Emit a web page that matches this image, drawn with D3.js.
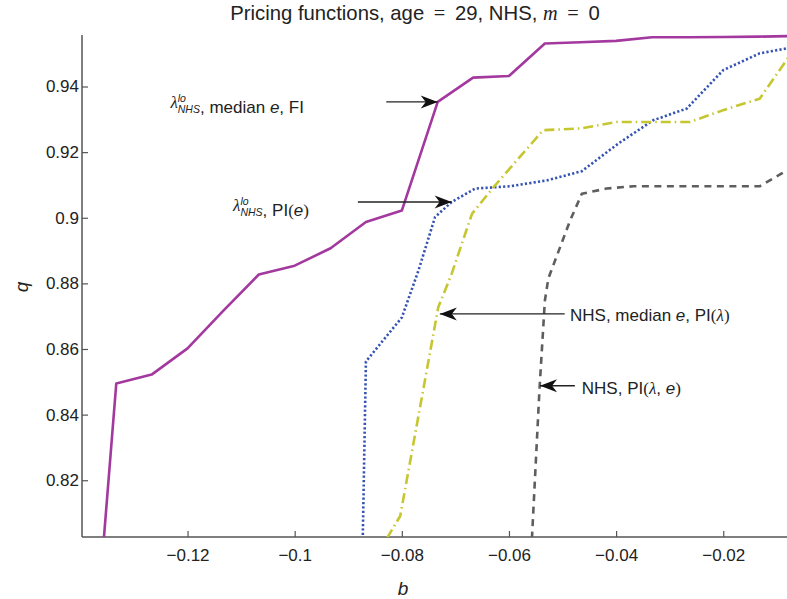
<!DOCTYPE html>
<html>
<head>
<meta charset="utf-8">
<script src="https://cdn.jsdelivr.net/npm/d3@7"></script>
<style>
  body { margin: 0; background: #fff; }
  svg { display: block; font-family: "Liberation Sans", Arial, sans-serif; }
</style>
</head>
<body>
<svg id="chart" width="787" height="599"></svg>
<script>
// pricing functions q(b)

// lambda_NHS^lo, median e, FI
var fiB = [-0.14, -0.1333, -0.1267, -0.12, -0.1133, -0.1067, -0.1, -0.0933, -0.0867, -0.08,
           -0.0733, -0.0667, -0.06, -0.0533, -0.0467, -0.04, -0.0333, -0.0267, -0.02, -0.0133, -0.0067];
var fiQ = [0.713, 0.8495, 0.8522, 0.8602, 0.8717, 0.8827, 0.8854, 0.8907, 0.8987, 0.9022,
           0.9353, 0.9427, 0.9432, 0.9531, 0.9535, 0.9539, 0.9550, 0.9550, 0.9551, 0.9552, 0.9554];

// lambda_NHS^lo, PI(e)
var piEB = [-0.0875, -0.0867, -0.08, -0.0769, -0.0738, -0.0707, -0.0663, -0.0598, -0.0529,
            -0.0464, -0.0396, -0.0331, -0.0268, -0.02, -0.0132, -0.0082, -0.0057];
var piEQ = [0.7832, 0.8562, 0.8696, 0.8839, 0.9002, 0.9048, 0.9089, 0.9096, 0.9114,
            0.9142, 0.9226, 0.9297, 0.9333, 0.945, 0.9501, 0.9516, 0.9523];

// NHS, median e, PI(lambda)
var piLB = [-0.0865, -0.0803, -0.0732, -0.0707, -0.0669, -0.0629, -0.0536, -0.0467, -0.0399,
            -0.0262, -0.02, -0.0132, -0.0082, -0.0057];
var piLQ = [0.7921, 0.8091, 0.8727, 0.8829, 0.9012, 0.9093, 0.9267, 0.9272, 0.9292,
            0.9292, 0.9328, 0.9363, 0.948, 0.9535];

// NHS, PI(lambda, e)
var piLEB = [-0.0563, -0.0543, -0.0533, -0.05265, -0.0486, -0.0464, -0.0418, -0.0368,
             -0.0132, -0.0094, -0.0057];
var piLEQ = [0.7832, 0.8478, 0.8747, 0.8815, 0.8991, 0.9073, 0.9089, 0.9096,
             0.9096, 0.9132, 0.9169];

var xTicks = [-0.12, -0.1, -0.08, -0.06, -0.04, -0.02];
var xTickLabels = ['\u22120.12', '\u22120.1', '\u22120.08', '\u22120.06', '\u22120.04', '\u22120.02'];
var yTicks = [0.82, 0.84, 0.86, 0.88, 0.9, 0.92, 0.94];
var yTickLabels = ['0.82', '0.84', '0.86', '0.88', '0.9', '0.92', '0.94'];

// arrow tip (b, q) and tail b, label start (b, q)
var arrowTipB = [-0.0733, -0.0707, -0.0729, -0.0542];
var arrowTipQ = [0.9353, 0.9048, 0.8707, 0.8488];
var arrowTailB = [-0.0829, -0.0882, -0.0496, -0.0477];
var labelB = [-0.1232, -0.1115, -0.0486, -0.0464];
var labelQ = [0.9335, 0.9021, 0.8685, 0.8463];

var svg = d3.select('#chart');
var plotL = 82, plotR = 787, plotT = 35, plotB = 537;

var x = d3.scaleLinear().domain([-0.1397, -0.0081]).range([plotL, plotR]);
var y = d3.scaleLinear().domain([0.8027, 0.9557]).range([plotB, plotT]);

var defs = svg.append('defs');
defs.append('clipPath').attr('id', 'plot-clip')
    .append('rect')
    .attr('x', plotL).attr('y', plotT - 5)
    .attr('width', plotR - plotL).attr('height', plotB - plotT + 5);

defs.append('marker')
    .attr('id', 'head')
    .attr('markerUnits', 'userSpaceOnUse')
    .attr('viewBox', '-18 -8 20 16')
    .attr('refX', 0).attr('refY', 0)
    .attr('markerWidth', 20).attr('markerHeight', 16)
    .attr('orient', 'auto')
    .append('path')
    .attr('d', 'M0,0 L-17,-6.5 L-12,0 L-17,6.5 Z')
    .attr('fill', '#111');

// axes
var axisColor = '#555';
var xAxis = d3.axisBottom(x).tickValues(xTicks)
    .tickFormat(function (d, i) { return xTickLabels[i]; })
    .tickSizeInner(-6).tickSizeOuter(0).tickPadding(12);
var yAxis = d3.axisLeft(y).tickValues(yTicks)
    .tickFormat(function (d, i) { return yTickLabels[i]; })
    .tickSizeInner(-6).tickSizeOuter(0).tickPadding(3);

var gx = svg.append('g').attr('transform', 'translate(0,' + plotB + ')').call(xAxis);
var gy = svg.append('g').attr('transform', 'translate(' + plotL + ',0)').call(yAxis);
gx.select('.domain').attr('d', 'M' + plotL + ',0H' + plotR);
gy.select('.domain').attr('d', 'M0,' + plotT + 'V' + plotB);
[gx, gy].forEach(function (g) {
    g.select('.domain').attr('stroke', axisColor).attr('stroke-width', 1.5);
    g.selectAll('.tick line').attr('stroke', axisColor).attr('stroke-width', 1.2);
    g.selectAll('.tick text').attr('fill', '#222').attr('font-size', 17)
        .attr('font-family', '"Liberation Sans", Arial, sans-serif');
});

// series
var line = d3.line()
    .x(function (d) { return x(d[0]); })
    .y(function (d) { return y(d[1]); });

var series = [
    { b: fiB, q: fiQ, color: '#a3389e', width: 2.6, dash: null },
    { b: piEB, q: piEQ, color: '#3553b2', width: 2.6, dash: '2.2,2.2' },
    { b: piLB, q: piLQ, color: '#c6c631', width: 2.6, dash: '10,4,1.5,4' },
    { b: piLEB, q: piLEQ, color: '#5e5e5e', width: 2.6, dash: '7,5.5' }
];

var plot = svg.append('g').attr('clip-path', 'url(#plot-clip)');
series.forEach(function (s) {
    plot.append('path')
        .datum(d3.zip(s.b, s.q))
        .attr('d', line)
        .attr('fill', 'none')
        .attr('stroke', s.color)
        .attr('stroke-width', s.width)
        .attr('stroke-dasharray', s.dash)
        .attr('stroke-linejoin', 'round');
});

// annotation arrows
arrowTipB.forEach(function (b, i) {
    svg.append('line')
        .attr('x1', x(arrowTailB[i])).attr('y1', y(arrowTipQ[i]))
        .attr('x2', x(b)).attr('y2', y(arrowTipQ[i]))
        .attr('stroke', '#222').attr('stroke-width', 1.3)
        .attr('marker-end', 'url(#head)');
});

// rich text built from runs
var serif = '"Liberation Serif", "DejaVu Serif", serif';

function addRuns(t, runs) {
    runs.forEach(function (r) {
        if (r.stack) {
            t.append('tspan').text('\u03bb')
                .attr('font-family', serif).attr('font-style', 'italic');
            var sup = t.append('tspan').text('lo')
                .attr('font-size', 10.5).attr('font-style', 'italic').attr('dy', -6);
            var w1 = sup.node().getComputedTextLength();
            var sub = t.append('tspan').text('NHS')
                .attr('font-size', 10.5).attr('font-style', 'italic')
                .attr('dx', -w1).attr('dy', 11);
            var w2 = sub.node().getComputedTextLength();
            t.append('tspan').attr('dy', -5).attr('dx', Math.max(0, w1 - w2)).text('');
            return;
        }
        var ts = t.append('tspan').text(r.t);
        if (r.it) ts.attr('font-style', 'italic');
        if (r.serif) ts.attr('font-family', serif);
    });
}

var labelRuns = [
    [{ stack: true }, { t: ', median ' }, { t: 'e', it: true }, { t: ', FI' }],
    [{ stack: true }, { t: ', PI' }, { t: '(', serif: true }, { t: 'e', it: true }, { t: ')', serif: true }],
    [{ t: 'NHS, median ' }, { t: 'e', it: true }, { t: ', PI' }, { t: '(', serif: true },
     { t: '\u03bb', serif: true, it: true }, { t: ')', serif: true }],
    [{ t: 'NHS, PI' }, { t: '(', serif: true }, { t: '\u03bb', serif: true, it: true },
     { t: ', ' }, { t: 'e', it: true }, { t: ')', serif: true }]
];

labelRuns.forEach(function (runs, i) {
    var t = svg.append('text')
        .attr('x', x(labelB[i])).attr('y', y(labelQ[i]))
        .attr('font-size', 17).attr('fill', '#222');
    addRuns(t, runs);
});

// title and axis labels
var title = svg.append('text')
    .attr('x', 415).attr('y', 20)
    .attr('text-anchor', 'middle')
    .attr('font-size', 20.3).attr('fill', '#222');
addRuns(title, [{ t: 'Pricing functions, age \u2009' }, { t: '=', serif: true }, { t: '\u2009 29, NHS, ' },
    { t: 'm', it: true, serif: true }, { t: ' \u2009' }, { t: '=', serif: true }, { t: '\u2009 0' }]);

svg.append('text')
    .attr('x', 403).attr('y', 595)
    .attr('text-anchor', 'middle')
    .attr('font-size', 19).attr('font-style', 'italic').attr('fill', '#222')
    .text('b');

svg.append('text')
    .attr('transform', 'translate(28,287) rotate(-90)')
    .attr('text-anchor', 'middle')
    .attr('font-size', 19).attr('font-style', 'italic').attr('fill', '#222')
    .text('q');
</script>
</body>
</html>
